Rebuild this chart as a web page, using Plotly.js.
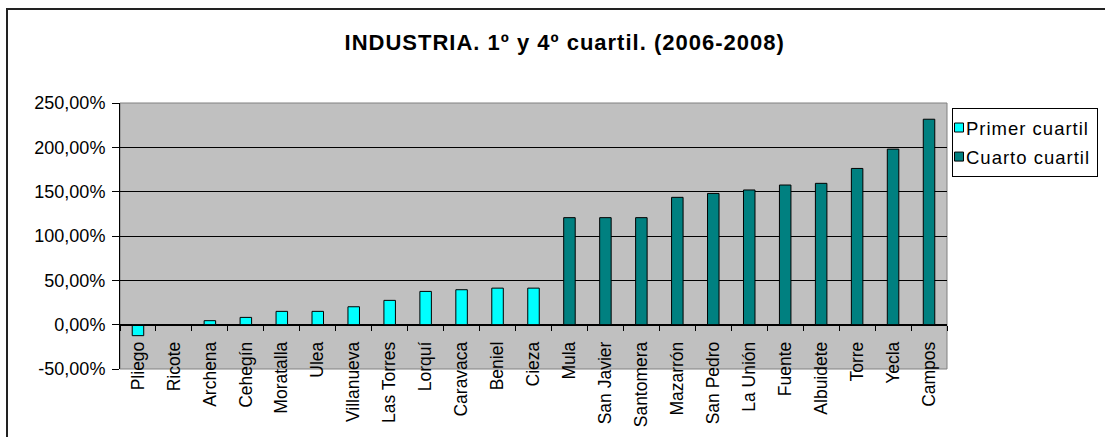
<!DOCTYPE html>
<html>
<head>
<meta charset="utf-8">
<script src="https://cdn.plot.ly/plotly-3.0.1.min.js"></script>
<style>
html,body{margin:0;padding:0;background:#fff;overflow:hidden;}
#chart{width:1105px;height:437px;position:relative;}
#frame{position:absolute;left:6px;top:8px;width:1200px;height:600px;border-top:2px solid #222;border-left:2px solid #222;pointer-events:none;z-index:10;}
.gtitle{letter-spacing:1px;}
.legendtext{letter-spacing:1px;}
</style>
</head>
<body>
<div id="chart"></div>
<div id="frame"></div>
<script>
const primerCats = ["Pliego","Ricote","Archena","Cehegín","Moratalla","Ulea","Villanueva","Las Torres","Lorquí","Caravaca","Beniel","Cieza"];
const primerVals = [-12.4, 0, 4.5, 8.2, 15.0, 15.0, 20.2, 27.4, 37.5, 39.4, 41.2, 41.2];
const cuartoCats = ["Mula","San Javier","Santomera","Mazarrón","San Pedro","La Unión","Fuente","Albuidete","Torre","Yecla","Campos"];
const cuartoVals = [120.7, 120.7, 120.7, 143.6, 148.0, 151.9, 157.5, 159.4, 176.2, 198.0, 231.7];
const yTickVals = [-50, 0, 50, 100, 150, 200, 250];
const yTickText = ["-50,00%", "0,00%", "50,00%", "100,00%", "150,00%", "200,00%", "250,00%"];
const allCats = primerCats.concat(cuartoCats);

const FONT = "Liberation Sans, Arial, sans-serif";

const traces = [
  {type:"bar", name:"Primer cuartil", x:primerCats, y:primerVals, width:0.32, legendgroup:"a",
   marker:{color:"#00FFFF", line:{color:"#000", width:1}}},
  {type:"bar", name:"Cuarto cuartil", x:cuartoCats, y:cuartoVals, width:0.32, legendgroup:"b",
   marker:{color:"#008080", line:{color:"#000", width:1}}}
];

const layout = {
  width:1105, height:437,
  margin:{l:120, r:158, t:103, b:67.5, pad:0},
  paper_bgcolor:"#fff",
  plot_bgcolor:"#C0C0C0",
  barmode:"overlay",
  font:{family:FONT, color:"#000", size:18},
  title:{text:"<b>INDUSTRIA. 1º y 4º cuartil. (2006-2008)</b>", font:{family:FONT, size:22, color:"#000"},
         xref:"container", x:0.511, xanchor:"center", yref:"container", y:0.904, yanchor:"middle"},
  xaxis:{type:"category", categoryorder:"array", categoryarray:allCats,
         anchor:"free", position:1/6, showline:true, linecolor:"#000", linewidth:1,
         ticks:"outside", ticklen:5, tickcolor:"#000", tickson:"boundaries",
         tickangle:-90, tickfont:{family:FONT, size:17.5, color:"#000"}, ticklabelstandoff:9,
         showgrid:false, zeroline:false, fixedrange:true, automargin:false},
  yaxis:{range:[-50,250], tickvals:yTickVals, ticktext:yTickText,
         showline:true, linecolor:"#000", linewidth:1, ticks:"outside", ticklen:7, tickcolor:"#000",
         showgrid:true, gridcolor:"#000", gridwidth:1, zeroline:false, automargin:false,
         tickfont:{family:FONT, size:18, color:"#000"}, ticklabelstandoff:3},
  showlegend:true,
  legend:{xref:"container", yref:"container", x:952/1105, xanchor:"left", y:1-108/437, yanchor:"top",
          bordercolor:"#000", borderwidth:1,
          bgcolor:"#fff", font:{family:FONT, size:18.5, color:"#000"}, traceorder:"grouped", tracegroupgap:2,
          itemwidth:30},
  shapes:[{type:"rect", xref:"paper", yref:"paper", x0:0, x1:1, y0:0, y1:1, line:{color:"#808080", width:1}, layer:"below"}]
};

Plotly.newPlot("chart", traces, layout, {displayModeBar:false, staticPlot:true}).then(function(gd){
  // tighten legend like the original: small square swatch right next to the label
  gd.querySelectorAll(".legend .traces").forEach(function(tr){
    var t = tr.querySelector("text.legendtext");
    if (t) t.setAttribute("x", "13");
    tr.querySelectorAll(".legendpoints path").forEach(function(p){
      p.setAttribute("d", "M4.5,4.5H-4.5V-4.5H4.5Z");
      p.setAttribute("transform", "translate(6,0)");
    });
  });
  var bg = gd.querySelector(".legend rect.bg");
  if (bg) bg.setAttribute("width", "145");
});
</script>
</body>
</html>
